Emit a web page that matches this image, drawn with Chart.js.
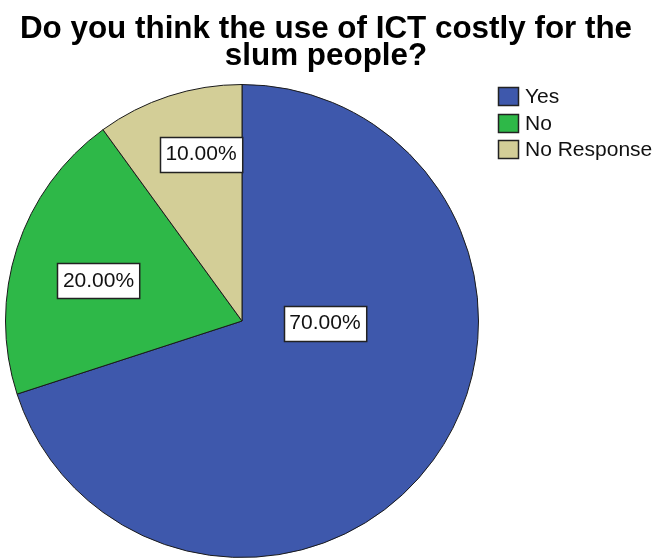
<!DOCTYPE html>
<html lang="en">
<head>
<meta charset="UTF-8">
<title>ICT cost for slum people</title>
<script src="https://cdn.jsdelivr.net/npm/chart.js"></script>
<style>
  html, body { margin: 0; padding: 0; background: #fff; }
  #wrap { width: 658px; height: 558px; }
</style>
</head>
<body>
<div id="wrap"><canvas id="pie" width="658" height="558"></canvas></div>
<script>
const categories = ["Yes", "No", "No Response"];
const percentages = [70, 20, 10];
const sliceColors = ["#3E58AC", "#2EB848", "#D3CE97"];
const titleLines = ["Do you think the use of ICT costly for the", "slum people?"];

// value box placement per slice: [share of the slice sweep, share of the radius]
const labelSpots = [[0.363, 0.351], [0.467, 0.63], [0.617, 0.727]];

const FONT = '"Liberation Sans", Arial, sans-serif';

// two-line bold title centred over the whole canvas
const titlePlugin = {
    id: "titleText",
    afterDraw(chart) {
        const ctx = chart.ctx;
        ctx.save();
        ctx.fillStyle = "#000";
        ctx.font = "bold 31.4px " + FONT;
        ctx.textAlign = "center";
        ctx.textBaseline = "alphabetic";
        titleLines.forEach((line, i) => ctx.fillText(line, chart.width / 2 - 3, 38 + i * 27));
        ctx.restore();
    }
};

// legend in the top right corner
const legendPlugin = {
    id: "sideLegend",
    afterDraw(chart) {
        const ctx = chart.ctx;
        ctx.save();
        ctx.font = "21px " + FONT;
        ctx.textBaseline = "middle";
        categories.forEach((name, i) => {
            const top = 87 + Math.round(i * 26.5);
            ctx.fillStyle = sliceColors[i];
            ctx.fillRect(498, top, 21, 19);
            ctx.strokeStyle = "#222";
            ctx.lineWidth = 1.5;
            ctx.strokeRect(498.5, top + 0.5, 20, 18);
            ctx.fillStyle = "#111";
            ctx.fillText(name, 525, top + 10.5);
        });
        ctx.restore();
    }
};

// boxed percentage labels inside the slices
const valueBoxPlugin = {
    id: "valueBoxes",
    afterDatasetsDraw(chart) {
        const ctx = chart.ctx;
        const arcs = chart.getDatasetMeta(0).data;
        ctx.save();
        ctx.font = "21px " + FONT;
        ctx.textAlign = "center";
        ctx.textBaseline = "middle";
        arcs.forEach((arc, i) => {
            const p = arc.getProps(["x", "y", "startAngle", "endAngle", "outerRadius"], true);
            const [share, rShare] = labelSpots[i];
            const a = p.startAngle + (p.endAngle - p.startAngle) * share;
            const r = p.outerRadius * rShare;
            const cx = p.x + Math.cos(a) * r;
            const cy = p.y + Math.sin(a) * r;
            const text = percentages[i].toFixed(2) + "%";
            const w = ctx.measureText(text).width + 11;
            const h = 35;
            const left = Math.round(cx - w / 2) + 0.5;
            const top = Math.round(cy - h / 2) + 0.5;
            ctx.fillStyle = "#fff";
            ctx.fillRect(left, top, w, h);
            ctx.strokeStyle = "#222";
            ctx.lineWidth = 1.5;
            ctx.strokeRect(left, top, w, h);
            ctx.fillStyle = "#111";
            ctx.fillText(text, cx, cy);
        });
        ctx.restore();
    }
};

new Chart(document.getElementById("pie"), {
    type: "pie",
    data: {
        labels: categories,
        datasets: [{
            data: percentages,
            backgroundColor: sliceColors,
            borderColor: "#1a1a1a",
            borderWidth: 1
        }]
    },
    options: {
        responsive: false,
        animation: false,
        layout: { padding: { top: 84, left: 5, right: 179, bottom: 0 } },
        plugins: {
            legend: { display: false },
            title: { display: false },
            tooltip: { enabled: false }
        }
    },
    plugins: [titlePlugin, legendPlugin, valueBoxPlugin]
});
</script>
</body>
</html>
